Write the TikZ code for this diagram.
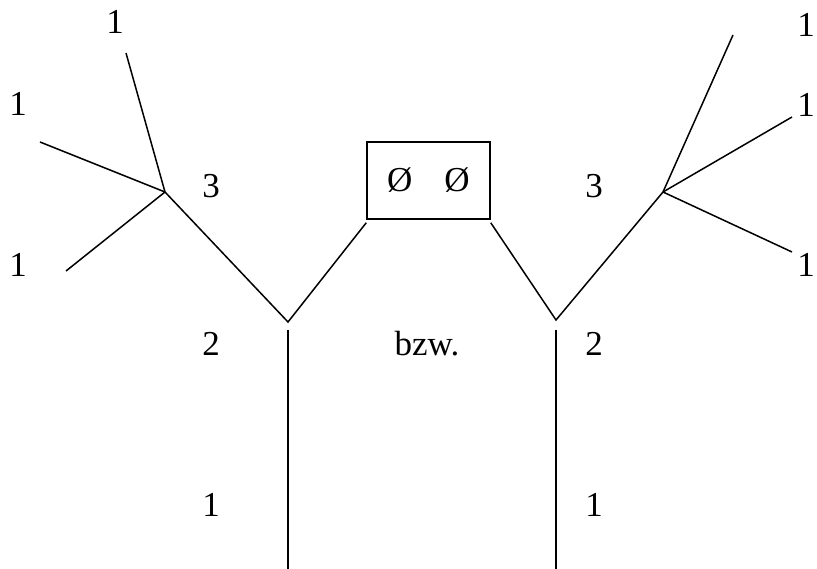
\documentclass[tikz,border=0pt]{standalone}
\usepackage{fontspec}
\setmainfont{Liberation Serif}
\begin{document}
\begin{tikzpicture}[x=1pt,y=-1pt,
  lbl/.style={font=\fontsize{35}{40}\selectfont,inner sep=0pt},
  edge/.style={line width=1.5pt,line cap=butt},
  boxnode/.style={draw,line width=1.5pt,minimum width=123pt,minimum height=77pt,inner sep=0pt,font=\fontsize{35}{40}\selectfont}]
\useasboundingbox (0,0) rectangle (817,569);
% left tree
\coordinate (hubL) at (165,192);
\coordinate (tL1) at (126,53);
\coordinate (tL2) at (40,142);
\coordinate (tL3) at (66,271);
\coordinate (vL) at (288,322);
\coordinate (sLtop) at (288,330);
\coordinate (sLbot) at (288,569);
% box
\node[boxnode] (box) at (428.5,180.5) {Ø\hspace{32pt}Ø};
% right tree
\coordinate (hubR) at (663,192);
\coordinate (tR1) at (733,35);
\coordinate (tR2) at (792,117);
\coordinate (tR3) at (792,252);
\coordinate (vR) at (556,320);
\coordinate (sRtop) at (556,330);
\coordinate (sRbot) at (556,569);
% edges
\draw[edge] (tL1) -- (hubL);
\draw[edge] (tL2) -- (hubL);
\draw[edge] (tL3) -- (hubL);
\draw[edge] (hubL) -- (vL) -- ([yshift=-3pt]box.south west);
\draw[edge] ([yshift=-3pt]box.south east) -- (vR) -- (hubR);
\draw[edge] (tR1) -- (hubR);
\draw[edge] (tR2) -- (hubR);
\draw[edge] (tR3) -- (hubR);
\draw[edge] (sLtop) -- (sLbot);
\draw[edge] (sRtop) -- (sRbot);
% labels
\node[lbl] (l1a) at (115,22) {1};
\node[lbl] (l1b) at (18,104) {1};
\node[lbl] (l1c) at (18,265) {1};
\node[lbl] (l3a) at (211,186) {3};
\node[lbl] (l3b) at (594,186) {3};
\node[lbl] (r1a) at (806,25) {1};
\node[lbl] (r1b) at (806,105) {1};
\node[lbl] (r1c) at (806,265) {1};
\node[lbl] (l2a) at (211,344) {2};
\node[lbl] (bzw) at (427,344) {bzw.};
\node[lbl] (l2b) at (594,344) {2};
\node[lbl] (l1d) at (211,505) {1};
\node[lbl] (l1e) at (594,505) {1};
\end{tikzpicture}
\end{document}
